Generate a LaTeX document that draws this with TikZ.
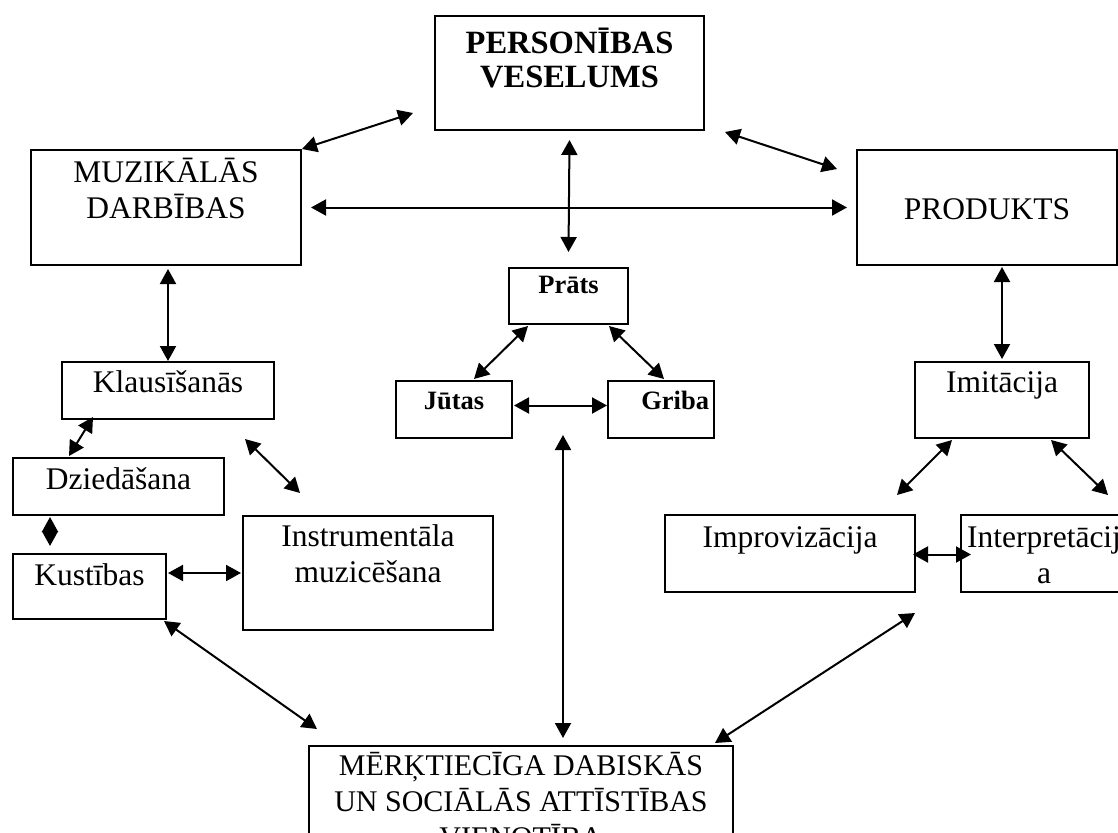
\documentclass[tikz,border=0pt]{standalone}
\usepackage{fontspec}
\setmainfont{Liberation Serif}
\usetikzlibrary{arrows.meta,calc}
\tikzset{>={Triangle[length=15pt,width=16pt]}}
\tikzstyle{box}=[draw,line width=2pt,inner sep=0pt,align=center,anchor=north west,font=\fontsize{31.5}{36}\selectfont]
\tikzstyle{bold box}=[box,font=\bfseries\fontsize{32.5}{34}\selectfont]
\tikzstyle{small box}=[box,font=\bfseries\fontsize{26.5}{30}\selectfont]
\tikzstyle{link}=[<->,line width=2pt]

\begin{document}
\begin{tikzpicture}[x=1pt,y=-1pt]
  \useasboundingbox (0,0) rectangle (1118,832);
  \clip (0,0) rectangle (1118,832);

  % TOP
  \node[bold box,minimum width=269,text height=72,text depth=42] (pers) at (434,15) {PERSONĪBAS\\VESELUMS};
  \node[box,minimum width=270,text height=68,text depth=47] (muz) at (30,149) {MUZIKĀLĀS\\DARBĪBAS};
  \node[box,minimum width=260,text height=69,text depth=46] (prod) at (856,149) {PRODUKTS};

  % MIDDLE TRIANGLE
  \node[small box,minimum width=119,text height=25,text depth=31] (prats) at (508,267) {Prāts};
  \node[small box,minimum width=116,text height=28,text depth=29] (jutas) at (395,380) {Jūtas};
  \node[small box,minimum width=106,text width=96,align=right,text height=28,text depth=29] (griba) at (607,380) {Griba};

  % LEFT
  \node[box,minimum width=212,text height=30,text depth=27] (klaus) at (61,361) {Klausīšanās};
  \node[box,minimum width=211,text height=31,text depth=26] (dzied) at (12,457) {Dziedāšana};
  \node[box,minimum width=153,text height=31,text depth=34] (kust) at (12,553) {Kustības};
  \node[box,minimum width=250,text height=66,text depth=48] (instr) at (242,515) {Instrumentāla\\muzicēšana};

  % RIGHT
  \node[box,minimum width=174,text height=30,text depth=46] (imit) at (914,361) {Imitācija};
  \node[box,minimum width=250,text height=32,text depth=45] (improv) at (664,514) {Improvizācija};
  \node[box,minimum width=166,text height=68,text depth=9] (interp) at (960,514) {Interpretācij\\a};

  % BOTTOM
  \node[box,minimum width=424,text height=101,text depth=14,font=\fontsize{30}{36}\selectfont] (merk) at (308,745) {MĒRĶTIECĪGA DABISKĀS\\UN SOCIĀLĀS ATTĪSTĪBAS\\VIENOTĪBA};

  % LINKS
  \draw[link] (muz.north east) -- ($(pers.south west)+(-21,-18)$);
  \draw[link] ($(pers.south east)+(20,1)$) -- ($(prod.north west)+(-19,20)$);
  \draw[link] ($(muz.east)+(9,0)$) -- ($(prod.west)+(-9,0)$);
  \draw[link] ($(pers.south)+(0,9)$) -- ($(prats.north)+(0,-15)$);
  \draw[link] ($(prats.south west)+(20,1)$) -- ($(jutas.north)+(20,-1)$);
  \draw[link] ($(prats.south east)+(-20,1)$) -- ($(griba.north)+(3,-1)$);
  \draw[link] ($(jutas.east)+(1,-4)$) -- ($(griba.west)+(0,-4)$);
  \draw[link] ($(jutas.south -| merk.north)+(42,-4)$) -- ($(merk.north)+(42,-7)$);
  \draw[link] ($(kust.south east)+(-3,1)$) -- ($(merk.north west)+(9,-16)$);
  \draw[link] ($(improv.south east)+(-1,20)$) -- ($(merk.north east)+(-19,-2)$);
  \draw[link] (klaus.north) -- ($(klaus.north |- muz.south)+(0,3)$);
  \draw[link] ($(klaus.south west)+(32,-3)$) -- ($(dzied.north west)+(57,-1)$);
  \draw[link] ($(klaus.south east)+(-30,19)$) -- ($(instr.north west)+(58,-22)$);
  \draw[link] ($(dzied.south west)+(38,1)$) -- ($(kust.north west)+(38,-7)$); % DIAMOND
  \draw[link] ($(kust.east |- instr.west)+(1,0)$) -- ($(instr.west)+(-1,0)$);
  \draw[link] ($(imit.north |- prod.south)+(0,1)$) -- ($(imit.north)+(0,-2)$);
  \draw[link] ($(imit.south west)+(38,1)$) -- ($(improv.north east)+(-19,-19)$);
  \draw[link] ($(imit.south east)+(-39,1)$) -- ($(interp.north east)+(-20,-19)$);
  \draw[link] ($(improv.east)+(-3,1)$) -- ($(interp.west)+(11,1)$);
\end{tikzpicture}
\end{document}
